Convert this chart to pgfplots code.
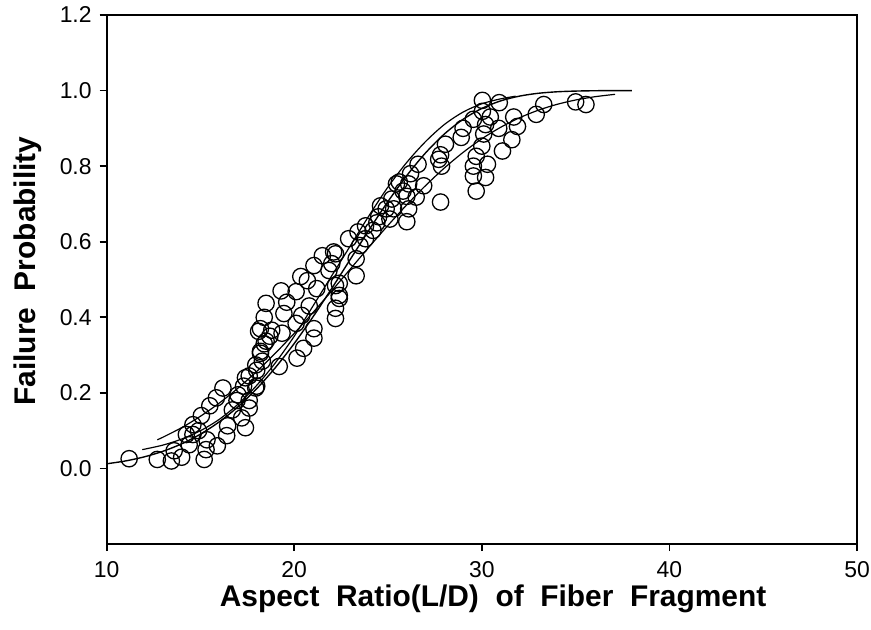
\documentclass[border=0pt]{standalone}
\usepackage{fontspec}
\setmainfont{Liberation Sans}
\usepackage{pgfplots}
\pgfplotsset{compat=1.18}

% measured fragments: aspect ratio vs failure probability
\pgfplotstableread{
x y
11.2 0.026
12.7 0.024
13.45 0.02
14.0 0.03
13.6 0.047
14.25 0.09
14.4 0.063
14.6 0.09
14.6 0.116
14.9 0.10
15.05 0.14
15.2 0.024
15.3 0.05
15.35 0.076
15.5 0.166
15.85 0.187
15.9 0.06
16.2 0.213
16.4 0.087
16.45 0.113
16.7 0.155
16.95 0.18
17.0 0.195
17.2 0.134
17.4 0.108
17.4 0.24
17.6 0.16
17.6 0.18
17.3 0.218
17.6 0.245
17.95 0.213
18.0 0.218
17.95 0.274
18.0 0.26
18.1 0.363
18.2 0.305
18.3 0.284
18.4 0.33
18.2 0.31
18.5 0.337
18.2 0.37
18.4 0.40
18.5 0.437
18.7 0.35
18.8 0.366
19.2 0.27
19.35 0.358
19.45 0.41
19.6 0.44
19.3 0.47
20.1 0.468
20.1 0.384
20.15 0.292
20.4 0.405
20.35 0.508
20.5 0.318
20.7 0.497
20.8 0.43
21.05 0.345
21.05 0.37
21.05 0.537
21.2 0.476
21.5 0.563
21.85 0.524
22.2 0.568
22.0 0.542
22.1 0.573
22.2 0.484
22.4 0.458
22.2 0.424
22.2 0.397
22.4 0.49
22.4 0.45
22.9 0.608
23.3 0.51
23.3 0.555
23.5 0.59
23.4 0.626
23.8 0.608
23.8 0.642
24.2 0.63
24.4 0.65
24.5 0.666
24.6 0.695
24.9 0.687
25.1 0.66
25.2 0.713
25.3 0.687
25.45 0.753
25.6 0.758
25.8 0.734
26.0 0.72
26.0 0.653
26.1 0.753
26.1 0.687
26.2 0.78
26.5 0.718
26.6 0.805
26.9 0.748
27.7 0.818
27.8 0.705
27.8 0.83
27.85 0.80
28.06 0.858
28.9 0.876
29.0 0.90
29.55 0.924
29.55 0.80
29.55 0.774
29.7 0.826
29.7 0.734
30.0 0.853
30.03 0.974
30.03 0.945
30.1 0.885
30.2 0.91
30.2 0.77
30.3 0.805
30.45 0.93
30.9 0.90
30.93 0.968
31.1 0.84
31.6 0.87
31.7 0.93
31.9 0.905
32.9 0.937
33.3 0.963
35.0 0.97
35.55 0.963
}\points

% fitted curves
\pgfplotstableread{
x y
10 0.0125
11 0.0200
12 0.0308
13 0.0456
14 0.0653
15 0.0910
16 0.1234
17 0.1633
18 0.2112
19 0.2673
20 0.3309
21 0.4013
22 0.4765
23 0.5544
24 0.6321
25 0.7067
26 0.7751
27 0.8350
28 0.8849
29 0.9239
30 0.9527
31 0.9726
32 0.9852
33 0.9927
34 0.9967
35 0.9986
36 0.9995
37 0.9998
38 0.99995
}\fitA

\pgfplotstableread{
x y
11.9 0.050
13 0.062
14 0.078
15 0.100
16 0.130
17 0.170
18 0.220
19 0.280
20 0.350
21 0.430
22 0.510
23 0.590
24 0.670
25 0.745
26 0.810
27 0.865
28 0.910
29 0.943
30 0.965
31 0.978
31.8 0.985
}\fitB

\pgfplotstableread{
x y
12.7 0.0761
13 0.0828
14 0.1082
15 0.1383
16 0.1730
17 0.2126
18 0.2569
19 0.3054
20 0.3576
21 0.4128
22 0.4701
23 0.5284
24 0.5867
25 0.6434
26 0.6977
27 0.7485
28 0.7949
29 0.8363
30 0.8723
31 0.9027
32 0.9278
33 0.9478
34 0.9634
35 0.9750
36 0.9835
37.1 0.9900
}\fitC

\begin{document}
\begin{tikzpicture}
\begin{axis}[
    scale only axis,
    width=376.5pt, height=265.5pt,
    xmin=10, xmax=50, ymin=-0.2, ymax=1.2,
    xtick={10,20,30,40,50},
    ytick={0,0.2,0.4,0.6,0.8,1.0,1.2},
    xtick pos=lower, ytick pos=left,
    tick align=outside,
    major tick length=3.5pt,
    axis line style={line width=0.9pt},
    tick style={line width=0.9pt, black},
    /pgf/number format/assume math mode=true,
    ticklabel style={font=\fontsize{11.5}{14}\selectfont},
    xticklabel style={yshift=-1.5pt},
    yticklabel style={xshift=-0.5pt, /pgf/number format/.cd, fixed, fixed zerofill, precision=1},
    xlabel={Aspect\ \ Ratio(L/D)\ \ of\ \ Fiber\ \ Fragment},
    ylabel={Failure\ \ Probability},
    label style={font=\fontsize{15}{18}\selectfont\bfseries},
    xlabel style={at={(axis description cs:0.515,-0.1036)}, anchor=center},
    ylabel style={at={(axis description cs:-0.1049,0.516)}, anchor=center},
]
\addplot[only marks, mark=o, mark size=4.1pt, mark options={line width=0.65pt, black}] table {\points};
\addplot[black, line width=0.7pt, smooth] table {\fitA};
\addplot[black, line width=0.6pt, smooth] table {\fitB};
\addplot[black, line width=0.6pt, smooth] table {\fitC};
\end{axis}
\pgfresetboundingbox
\path[use as bounding box] (-53.5pt,-43pt) rectangle (383.5pt,273pt);
\end{tikzpicture}
\end{document}
